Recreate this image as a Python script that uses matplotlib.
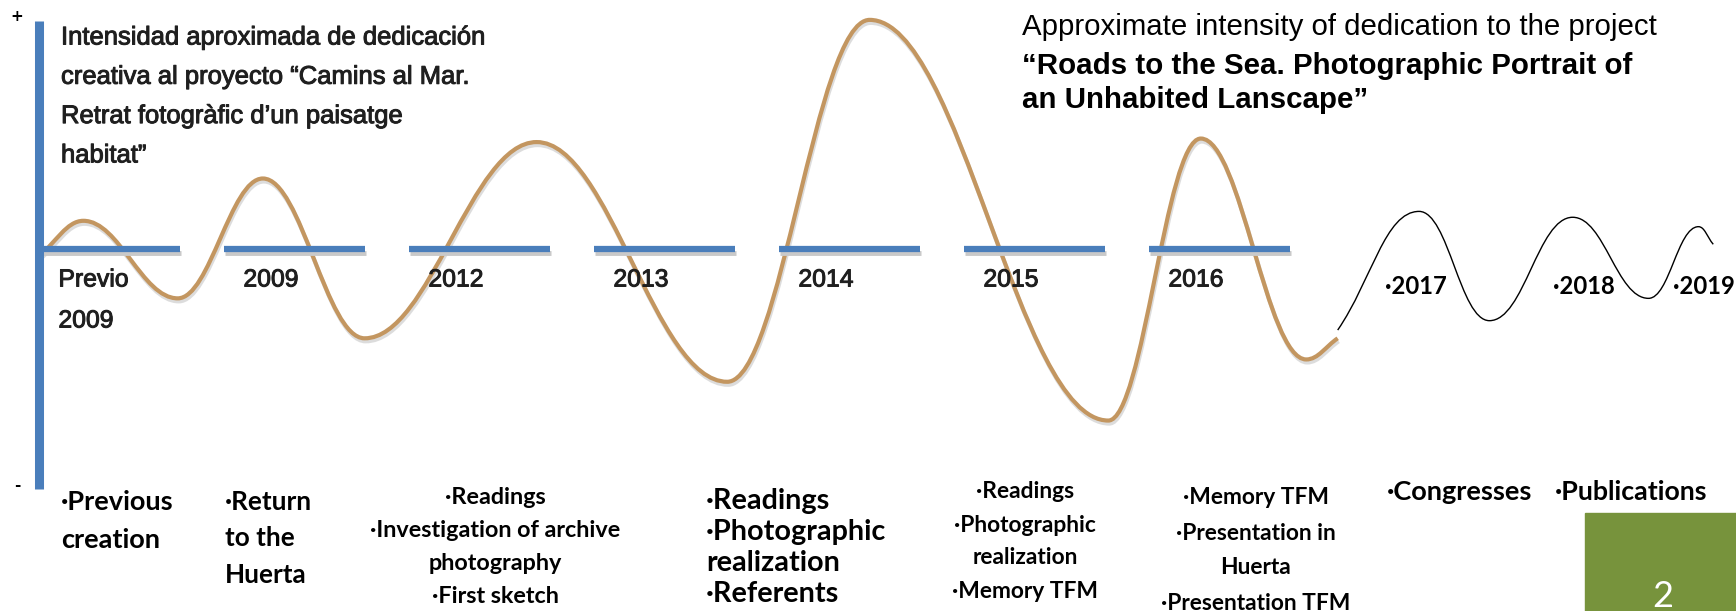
import matplotlib
matplotlib.use("Agg")
import matplotlib.pyplot as plt
import matplotlib.patheffects as pe
from matplotlib.path import Path
from matplotlib.patches import PathPatch, Rectangle
from matplotlib.transforms import offset_copy

# ---- data ----
periods = ["Previo\n2009", "2009", "2012", "2013", "2014", "2015", "2016"]

# brown curve: turning points of dedication (timeline slot, intensity)
ded_t = [0.0, 0.24, 0.75, 1.21, 1.76, 2.69, 3.72, 4.49, 5.78, 6.28, 6.85, 7.02]
ded_v = [-0.3, 1.2, -2.1, 3.0, -3.8, 4.55, -5.65, 9.75, -7.3, 4.7, -4.7, -3.8]

# black curve, the years after
fut_t = [7.02, 7.46, 7.84, 8.29, 8.70, 8.97, 9.05]
fut_v = [-3.45, 1.6, -3.05, 1.35, -2.1, 0.95, 0.2]
future_years = ["·2017", "·2018", "·2019"]

v_top, v_bot = 9.7, -10.2

activities = [
    ["·Previous", "creation"],
    ["·Return", "to the", "Huerta"],
    ["·Readings", "·Investigation of archive", "photography", "·First sketch"],
    ["·Readings", "·Photographic", "realization", "·Referents"],
    ["·Readings", "·Photographic", "realization", "·Memory TFM"],
    ["·Memory TFM", "·Presentation in", "Huerta", "·Presentation TFM"],
    ["·Congresses"],
    ["·Publications"],
]

title_es = ["Intensidad aproximada de dedicación",
            "creativa al proyecto \u201cCamins al Mar.",
            "Retrat fotogràfic d\u2019un paisatge",
            "habitat\u201d"]
title_en = ["Approximate intensity of dedication to the project",
            "\u201cRoads to the Sea. Photographic Portrait of",
            "an Unhabited Lanscape\u201d"]

# ---- figure ----
W, H = 1736, 611
fig = plt.figure(figsize=(W / 100, H / 100), dpi=100)
ax = fig.add_axes([0, 0, 1, 1])
X0, SX, Y0, SY = 39, 185.0, 249, 23.5   # one slot = 185 px, one unit = 23.5 px
ax.set_xlim(-X0 / SX, (W - X0) / SX)
ax.set_ylim((Y0 - H) / SY, Y0 / SY)
ax.axis("off")
r = fig.canvas.get_renderer()

BLUE = "#4A7EBB"
BROWN = "#C39660"
TXT = "#1f1f1f"
HEAVY = [pe.withStroke(linewidth=0.7, foreground=TXT)]


def smooth(ts, vs, k=0.38):
    verts = [(ts[0], vs[0])]
    codes = [Path.MOVETO]
    n = len(ts)
    for i in range(n - 1):
        x0, y0, x1, y1 = ts[i], vs[i], ts[i + 1], vs[i + 1]
        dx, dy = x1 - x0, y1 - y0
        c1 = (x0 + k * dx, y0) if i > 0 else (x0 + k * dx, y0 + k * dy)
        c2 = (x1 - k * dx, y1) if i + 1 < n - 1 else (x1 - k * dx, y1 - k * dy)
        verts += [c1, c2, (x1, y1)]
        codes += [Path.CURVE4] * 3
    return Path(verts, codes)


# timeline dashes with shadow
shadow = offset_copy(ax.transData, fig=fig, x=1, y=-4, units="dots")
for i in range(len(periods)):
    ax.plot([i, i + 0.76], [0, 0], color="#c9c9c9", lw=3.5,
            solid_capstyle="butt", transform=shadow)
    ax.plot([i, i + 0.76], [0, 0], color=BLUE, lw=4.5, solid_capstyle="butt")

# vertical intensity bar
ax.plot([0, 0], [v_top, v_bot], color=BLUE, lw=6.5, solid_capstyle="butt")

# curves
p = smooth(ded_t, ded_v)
sh = offset_copy(ax.transData, fig=fig, x=1, y=-3, units="dots")
ax.add_patch(PathPatch(p, fc="none", ec="#bbbbbb", lw=3, alpha=0.5, transform=sh))
ax.add_patch(PathPatch(p, fc="none", ec=BROWN, lw=3, capstyle="butt"))
ax.add_patch(PathPatch(smooth(fut_t, fut_v, k=0.42), fc="none", ec="black", lw=1))


def fit(t, width):
    w = t.get_window_extent(r).width
    t.set_fontsize(t.get_fontsize() * width / w)
    return t.get_fontsize()


def ptext(x, y, s, **kw):
    return fig.text(x / W, 1 - y / H, s, va="center_baseline", **kw)


def block(lines, x, y, dy, ha, ref, width, **kw):
    ts = [ptext(x, y + i * dy, s, ha=ha, **kw) for i, s in enumerate(lines)]
    fs = fit(ts[ref], width)
    for t in ts:
        t.set_fontsize(fs)
    return fs


# period labels under the dashes
lab = []
for i, s in enumerate(periods):
    for j, part in enumerate(s.split("\n")):
        lab.append(ax.text(i + 0.105, -(277 + 41 * j - Y0) / SY, part,
                           ha="left", va="center_baseline", color=TXT,
                           family="Liberation Sans", fontsize=16,
                           path_effects=HEAVY))
fs = fit(lab[2], 55)
for t in lab:
    t.set_fontsize(fs)

# "+" and "-"
ptext(17, 15, "+", ha="center", fontsize=11, weight="bold", color="black")
ptext(17, 484, "-", ha="center", fontsize=11, weight="bold", color="black")

# titles
block(title_es, 61, 35, 39.3, "left", 0, 426, family="Liberation Sans",
      color=TXT, path_effects=HEAVY)
ptext_en = ptext(1022, 24, title_en[0], ha="left", family="Liberation Sans", color="black")
fit(ptext_en, 636)
block(title_en[1:], 1022, 63, 34, "left", 0, 610, family="Liberation Sans",
      weight="bold", color="black")

# activities
CAL = dict(family=["Lato", "DejaVu Sans"], weight="bold", color="black")
layout = [
    (61, 500, 38, "left", 0, 113),
    (225, 500, 36.5, "left", 0, 87),
    (495, 496, 32.7, "center", 1, 251),
    (706, 498, 31.3, "left", 1, 180),
    (1025, 490, 33, "center", 1, 142),
    (1256, 496, 35, "center", 3, 190),
    (1387, 490, 30, "left", 0, 146),
    (1555, 490, 30, "left", 0, 153),
]
for lines, (x, y, dy, ha, ref, w) in zip(activities, layout):
    block(lines, x, y, dy, ha, ref, w, **CAL)

# future years
yl = [ptext(x, 285, s, ha="left", **CAL) for x, s in zip([1385, 1553, 1673], future_years)]
fs = fit(yl[0], 62)
for t in yl:
    t.set_fontsize(fs)

# slide number box
fig.patches.append(Rectangle((1585 / W, 0), (W - 1585) / W, (H - 513) / H,
                             transform=fig.transFigure, color="#77933C"))
fig.text(1663 / W, 1 - 607 / H, "2", ha="center", va="baseline", fontsize=26,
         family=["Lato", "DejaVu Sans"], color="white")

fig.savefig("out.png", dpi=100)
